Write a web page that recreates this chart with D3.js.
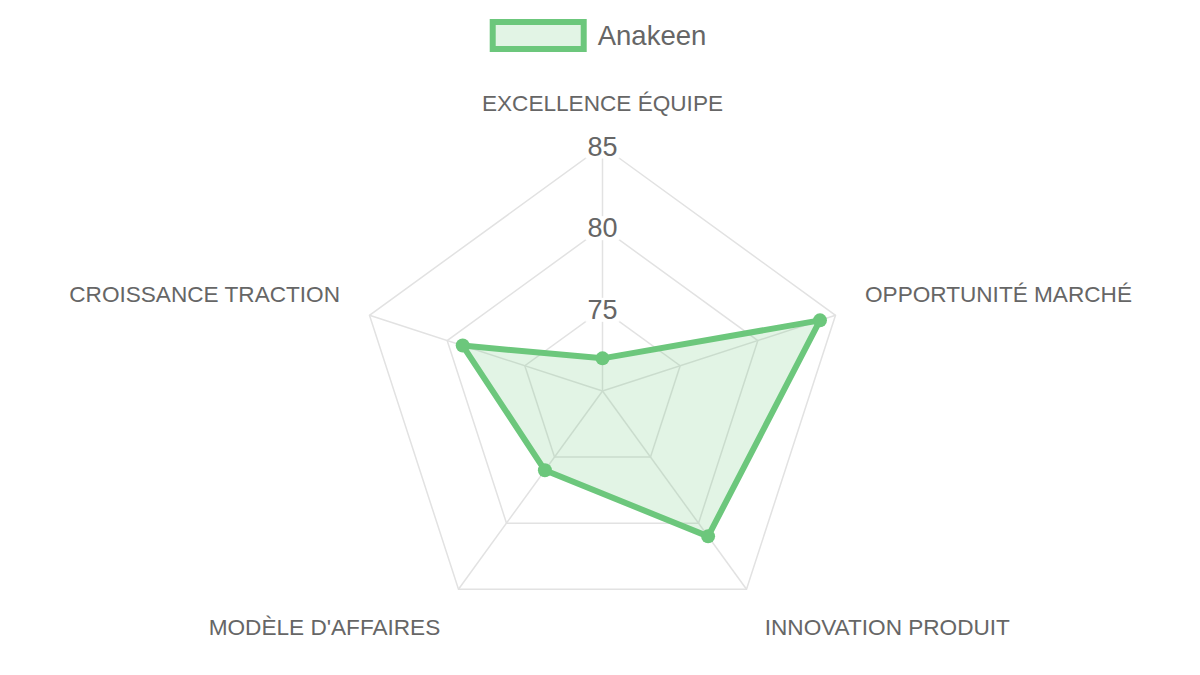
<!DOCTYPE html>
<html>
<head>
<meta charset="utf-8">
<script src="https://cdn.jsdelivr.net/npm/d3@7"></script>
<style>
body{margin:0;background:#ffffff;}
svg text{font-family:"Liberation Sans",Arial,sans-serif;fill:#666666;}
</style>
</head>
<body>
<div id="chart"></div>
<script>
// chart data
var categories=["EXCELLENCE ÉQUIPE","OPPORTUNITÉ MARCHÉ","INNOVATION PRODUIT","MODÈLE D'AFFAIRES","CROISSANCE TRACTION"];
var seriesName="Anakeen";
var seriesValues=[72,84,81,76,79];
var tickValues=[75,80,85];
var scaleDomain=[70,85];

// look
var width=1200, height=675;
var cP={x:602.5,y:391};
var radius=245;
var labelGap=31;
var lineColor="#6cc77c";
var fillColor="rgba(108,199,124,0.2)";
var gridColor="#e2e2e2";

var mySvg=d3.select("#chart").append("svg").attr("width",width).attr("height",height);
var r=d3.scaleLinear().domain(scaleDomain).range([0,radius]);
var angle=d3.scaleLinear().domain([0,categories.length]).range([0,2*Math.PI]);

function pt(i,rr){
    var a=angle(i);
    return [cP.x+rr*Math.sin(a),cP.y-rr*Math.cos(a)];
}

// grid rings
var g=mySvg.append("g").attr("class","grid");
g.selectAll("polygon.ring").data(tickValues).enter().append("polygon")
    .attr("class","ring")
    .attr("points",function(t){return categories.map(function(c,i){return pt(i,r(t)).join(",");}).join(" ");})
    .attr("style","fill:none;stroke:"+gridColor+";stroke-width:1.5px");
// spokes
g.selectAll("line.spoke").data(categories).enter().append("line")
    .attr("class","spoke")
    .attr("x1",cP.x).attr("y1",cP.y)
    .attr("x2",function(c,i){return pt(i,radius)[0];})
    .attr("y2",function(c,i){return pt(i,radius)[1];})
    .attr("style","stroke:"+gridColor+";stroke-width:1.5px");

// data area
var area=mySvg.append("g").attr("class","series");
area.append("polygon")
    .attr("points",seriesValues.map(function(v,i){return pt(i,r(v)).join(",");}).join(" "))
    .attr("style","fill:"+fillColor+";stroke:"+lineColor+";stroke-width:6px;stroke-linejoin:round");
area.selectAll("circle").data(seriesValues).enter().append("circle")
    .attr("cx",function(v,i){return pt(i,r(v))[0];})
    .attr("cy",function(v,i){return pt(i,r(v))[1];})
    .attr("r",7)
    .style("fill",lineColor).style("stroke","none");

// tick labels with white backdrop
var ticks=mySvg.append("g").attr("class","ticks");
ticks.selectAll("text").data(tickValues).enter().append("text")
    .attr("x",cP.x).attr("y",function(t){return cP.y-r(t)+9.5;})
    .attr("text-anchor","middle").style("font-size","27px")
    .text(function(t){return t;})
    .each(function(){
        var b=this.getBBox();
        d3.select(this.parentNode).insert("rect",function(){return this.firstChild;})
            .attr("x",b.x-2).attr("y",b.y+3).attr("width",b.width+4).attr("height",b.height-6)
            .style("fill","#ffffff");
    });

// point labels
var lab=mySvg.append("g").attr("class","point-labels");
lab.selectAll("text").data(categories).enter().append("text")
    .attr("x",function(c,i){return pt(i,radius+labelGap)[0];})
    .attr("y",function(c,i){
        var p=pt(i,radius+labelGap);
        return p[1]>cP.y ? p[1]+20.5 : p[1]-4;
    })
    .attr("text-anchor",function(c,i){
        var x=pt(i,radius+labelGap)[0];
        if (Math.abs(x-cP.x)<1) return "middle";
        return x>cP.x ? "start" : "end";
    })
    .style("font-size","22.6px")
    .text(function(c){return c;});

// legend
var leg=mySvg.append("g").attr("class","legend");
var legText=leg.append("text").attr("x",0).attr("y",44.5).style("font-size","27.5px").text(seriesName);
var tw=legText.node().getComputedTextLength();
var boxW=97, boxGap=11;
var lx=cP.x-4.5-(boxW+boxGap+tw)/2;
leg.append("rect").attr("x",lx+3).attr("y",22).attr("width",boxW-6).attr("height",27)
    .attr("style","fill:"+fillColor+";stroke:"+lineColor+";stroke-width:6px");
legText.attr("x",lx+boxW+boxGap);
</script>
</body>
</html>
